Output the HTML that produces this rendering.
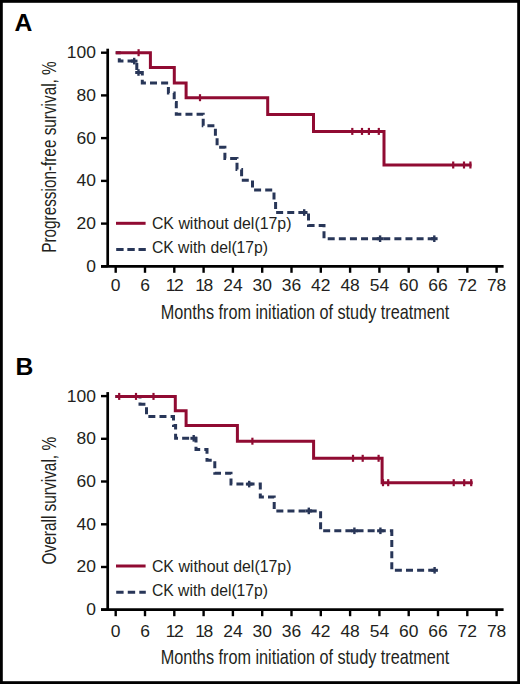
<!DOCTYPE html>
<html><head><meta charset="utf-8"><style>
html,body{margin:0;padding:0;background:#fff;}
svg{display:block;}
text{font-family:"Liberation Sans",sans-serif;fill:#231f20;}
.tk{font-size:15.6px;}
.ttl{font-size:20.2px;}
.lg{font-size:16.2px;}
.pl{font-size:24.7px;font-weight:bold;fill:#000;}
</style></head><body>
<svg width="520" height="684" viewBox="0 0 520 684">
<rect x="0" y="0" width="520" height="684" fill="#fff"/>
<rect x="1.4" y="1.4" width="517.2" height="681.2" fill="none" stroke="#000" stroke-width="2.8"/>
<text x="14.4" y="31.2" class="pl">A</text>
<text x="15.6" y="375" class="pl">B</text>
<line x1="107.7" y1="48.7" x2="107.7" y2="266.3" stroke="#000" stroke-width="2.7"/><line x1="101" y1="266.3" x2="503.6" y2="266.3" stroke="#000" stroke-width="2.7"/><line x1="101" y1="52.7" x2="107.7" y2="52.7" stroke="#000" stroke-width="2.4"/><text transform="translate(95.9 58.1) scale(1.120 1)" text-anchor="end" class="tk">100</text><line x1="101" y1="95.4" x2="107.7" y2="95.4" stroke="#000" stroke-width="2.4"/><text transform="translate(95.9 100.8) scale(1.120 1)" text-anchor="end" class="tk">80</text><line x1="101" y1="138.1" x2="107.7" y2="138.1" stroke="#000" stroke-width="2.4"/><text transform="translate(95.9 143.5) scale(1.120 1)" text-anchor="end" class="tk">60</text><line x1="101" y1="180.9" x2="107.7" y2="180.9" stroke="#000" stroke-width="2.4"/><text transform="translate(95.9 186.3) scale(1.120 1)" text-anchor="end" class="tk">40</text><line x1="101" y1="223.6" x2="107.7" y2="223.6" stroke="#000" stroke-width="2.4"/><text transform="translate(95.9 229.0) scale(1.120 1)" text-anchor="end" class="tk">20</text><line x1="101" y1="266.3" x2="107.7" y2="266.3" stroke="#000" stroke-width="2.4"/><text transform="translate(95.9 271.7) scale(1.120 1)" text-anchor="end" class="tk">0</text><line x1="115.7" y1="266.3" x2="115.7" y2="272.8" stroke="#000" stroke-width="2.4"/><text transform="translate(115.7 291.0) scale(1.120 1)" text-anchor="middle" class="tk">0</text><line x1="145.0" y1="266.3" x2="145.0" y2="272.8" stroke="#000" stroke-width="2.4"/><text transform="translate(145.0 291.0) scale(1.120 1)" text-anchor="middle" class="tk">6</text><line x1="174.3" y1="266.3" x2="174.3" y2="272.8" stroke="#000" stroke-width="2.4"/><text transform="translate(174.1 291.0) scale(1.120 1)" text-anchor="middle" class="tk" letter-spacing="-1.3">12</text><line x1="203.6" y1="266.3" x2="203.6" y2="272.8" stroke="#000" stroke-width="2.4"/><text transform="translate(203.4 291.0) scale(1.120 1)" text-anchor="middle" class="tk" letter-spacing="-1.3">18</text><line x1="232.9" y1="266.3" x2="232.9" y2="272.8" stroke="#000" stroke-width="2.4"/><text transform="translate(232.9 291.0) scale(1.120 1)" text-anchor="middle" class="tk">24</text><line x1="262.2" y1="266.3" x2="262.2" y2="272.8" stroke="#000" stroke-width="2.4"/><text transform="translate(262.2 291.0) scale(1.120 1)" text-anchor="middle" class="tk">30</text><line x1="291.5" y1="266.3" x2="291.5" y2="272.8" stroke="#000" stroke-width="2.4"/><text transform="translate(291.5 291.0) scale(1.120 1)" text-anchor="middle" class="tk">36</text><line x1="320.8" y1="266.3" x2="320.8" y2="272.8" stroke="#000" stroke-width="2.4"/><text transform="translate(320.8 291.0) scale(1.120 1)" text-anchor="middle" class="tk">42</text><line x1="350.1" y1="266.3" x2="350.1" y2="272.8" stroke="#000" stroke-width="2.4"/><text transform="translate(350.1 291.0) scale(1.120 1)" text-anchor="middle" class="tk">48</text><line x1="379.4" y1="266.3" x2="379.4" y2="272.8" stroke="#000" stroke-width="2.4"/><text transform="translate(379.4 291.0) scale(1.120 1)" text-anchor="middle" class="tk">54</text><line x1="408.7" y1="266.3" x2="408.7" y2="272.8" stroke="#000" stroke-width="2.4"/><text transform="translate(408.7 291.0) scale(1.120 1)" text-anchor="middle" class="tk">60</text><line x1="438.0" y1="266.3" x2="438.0" y2="272.8" stroke="#000" stroke-width="2.4"/><text transform="translate(438.0 291.0) scale(1.120 1)" text-anchor="middle" class="tk">66</text><line x1="467.3" y1="266.3" x2="467.3" y2="272.8" stroke="#000" stroke-width="2.4"/><text transform="translate(467.3 291.0) scale(1.120 1)" text-anchor="middle" class="tk">72</text><line x1="496.6" y1="266.3" x2="496.6" y2="272.8" stroke="#000" stroke-width="2.4"/><text transform="translate(496.6 291.0) scale(1.120 1)" text-anchor="middle" class="tk">78</text><text x="160.8" y="319.0" class="ttl" textLength="288.5" lengthAdjust="spacingAndGlyphs">Months from initiation of study treatment</text><text transform="translate(55.8 252.8) rotate(-90)" class="ttl" textLength="191.5" lengthAdjust="spacingAndGlyphs">Progression-free survival, %</text><line x1="116" y1="223.3" x2="145.6" y2="223.3" stroke="#900b32" stroke-width="3.0"/><line x1="116.2" y1="249.5" x2="145.8" y2="249.5" stroke="#283658" stroke-width="3.0" stroke-dasharray="7.4 3.75"/><text x="151.9" y="229.0" class="lg" textLength="139.6" lengthAdjust="spacingAndGlyphs">CK without del(17p)</text><text x="151.9" y="253.3" class="lg" textLength="116.2" lengthAdjust="spacingAndGlyphs">CK with del(17p)</text>
<line x1="107.7" y1="392.1" x2="107.7" y2="609.7" stroke="#000" stroke-width="2.7"/><line x1="101" y1="609.7" x2="503.6" y2="609.7" stroke="#000" stroke-width="2.7"/><line x1="101" y1="396.1" x2="107.7" y2="396.1" stroke="#000" stroke-width="2.4"/><text transform="translate(95.9 401.5) scale(1.120 1)" text-anchor="end" class="tk">100</text><line x1="101" y1="438.8" x2="107.7" y2="438.8" stroke="#000" stroke-width="2.4"/><text transform="translate(95.9 444.2) scale(1.120 1)" text-anchor="end" class="tk">80</text><line x1="101" y1="481.5" x2="107.7" y2="481.5" stroke="#000" stroke-width="2.4"/><text transform="translate(95.9 486.9) scale(1.120 1)" text-anchor="end" class="tk">60</text><line x1="101" y1="524.3" x2="107.7" y2="524.3" stroke="#000" stroke-width="2.4"/><text transform="translate(95.9 529.7) scale(1.120 1)" text-anchor="end" class="tk">40</text><line x1="101" y1="567.0" x2="107.7" y2="567.0" stroke="#000" stroke-width="2.4"/><text transform="translate(95.9 572.4) scale(1.120 1)" text-anchor="end" class="tk">20</text><line x1="101" y1="609.7" x2="107.7" y2="609.7" stroke="#000" stroke-width="2.4"/><text transform="translate(95.9 615.1) scale(1.120 1)" text-anchor="end" class="tk">0</text><line x1="115.7" y1="609.7" x2="115.7" y2="616.2" stroke="#000" stroke-width="2.4"/><text transform="translate(115.7 636.8) scale(1.120 1)" text-anchor="middle" class="tk">0</text><line x1="145.0" y1="609.7" x2="145.0" y2="616.2" stroke="#000" stroke-width="2.4"/><text transform="translate(145.0 636.8) scale(1.120 1)" text-anchor="middle" class="tk">6</text><line x1="174.3" y1="609.7" x2="174.3" y2="616.2" stroke="#000" stroke-width="2.4"/><text transform="translate(174.1 636.8) scale(1.120 1)" text-anchor="middle" class="tk" letter-spacing="-1.3">12</text><line x1="203.6" y1="609.7" x2="203.6" y2="616.2" stroke="#000" stroke-width="2.4"/><text transform="translate(203.4 636.8) scale(1.120 1)" text-anchor="middle" class="tk" letter-spacing="-1.3">18</text><line x1="232.9" y1="609.7" x2="232.9" y2="616.2" stroke="#000" stroke-width="2.4"/><text transform="translate(232.9 636.8) scale(1.120 1)" text-anchor="middle" class="tk">24</text><line x1="262.2" y1="609.7" x2="262.2" y2="616.2" stroke="#000" stroke-width="2.4"/><text transform="translate(262.2 636.8) scale(1.120 1)" text-anchor="middle" class="tk">30</text><line x1="291.5" y1="609.7" x2="291.5" y2="616.2" stroke="#000" stroke-width="2.4"/><text transform="translate(291.5 636.8) scale(1.120 1)" text-anchor="middle" class="tk">36</text><line x1="320.8" y1="609.7" x2="320.8" y2="616.2" stroke="#000" stroke-width="2.4"/><text transform="translate(320.8 636.8) scale(1.120 1)" text-anchor="middle" class="tk">42</text><line x1="350.1" y1="609.7" x2="350.1" y2="616.2" stroke="#000" stroke-width="2.4"/><text transform="translate(350.1 636.8) scale(1.120 1)" text-anchor="middle" class="tk">48</text><line x1="379.4" y1="609.7" x2="379.4" y2="616.2" stroke="#000" stroke-width="2.4"/><text transform="translate(379.4 636.8) scale(1.120 1)" text-anchor="middle" class="tk">54</text><line x1="408.7" y1="609.7" x2="408.7" y2="616.2" stroke="#000" stroke-width="2.4"/><text transform="translate(408.7 636.8) scale(1.120 1)" text-anchor="middle" class="tk">60</text><line x1="438.0" y1="609.7" x2="438.0" y2="616.2" stroke="#000" stroke-width="2.4"/><text transform="translate(438.0 636.8) scale(1.120 1)" text-anchor="middle" class="tk">66</text><line x1="467.3" y1="609.7" x2="467.3" y2="616.2" stroke="#000" stroke-width="2.4"/><text transform="translate(467.3 636.8) scale(1.120 1)" text-anchor="middle" class="tk">72</text><line x1="496.6" y1="609.7" x2="496.6" y2="616.2" stroke="#000" stroke-width="2.4"/><text transform="translate(496.6 636.8) scale(1.120 1)" text-anchor="middle" class="tk">78</text><text x="160.8" y="664.0" class="ttl" textLength="288.5" lengthAdjust="spacingAndGlyphs">Months from initiation of study treatment</text><text transform="translate(55.8 564.5) rotate(-90)" class="ttl" textLength="127.6" lengthAdjust="spacingAndGlyphs">Overall survival, %</text><line x1="116" y1="566.0" x2="145.6" y2="566.0" stroke="#900b32" stroke-width="3.0"/><line x1="116.2" y1="592.2" x2="145.8" y2="592.2" stroke="#283658" stroke-width="3.0" stroke-dasharray="7.4 4.15"/><text x="151.9" y="572.0" class="lg" textLength="139.6" lengthAdjust="spacingAndGlyphs">CK without del(17p)</text><text x="151.9" y="596.3" class="lg" textLength="116.2" lengthAdjust="spacingAndGlyphs">CK with del(17p)</text>
<path d="M115.7 52.7 L119.3 52.7 L119.3 61.1 L136.8 61.1 L136.8 72.5 L142.3 72.5 L142.3 83.1 L168.4 83.1 L168.4 93.0 L174.2 93.0 L174.2 102.5 L176.3 102.5 L176.3 114.3 L203.2 114.3 L203.2 125.7 L215.4 125.7 L215.4 137.0 L217.1 137.0 L217.1 147.3 L224.9 147.3 L224.9 158.5 L237.0 158.5 L237.0 169.5 L241.6 169.5 L241.6 180.2 L252.5 180.2 L252.5 190.1 L274.0 190.1 L274.0 200.0 L275.6 200.0 L275.6 212.5 L308.5 212.5 L308.5 225.5 L324.0 225.5 L324.0 238.7 L437.3 238.7" fill="none" stroke="#283658" stroke-width="3.0" stroke-linejoin="miter" stroke-dasharray="7 4.11" stroke-dashoffset="1.95"/>
<path d="M115.7 52.7 L150.4 52.7 L150.4 67.6 L174.3 67.6 L174.3 83.1 L186.1 83.1 L186.1 97.7 L267.7 97.7 L267.7 114.4 L313.5 114.4 L313.5 131.4 L384.0 131.4 L384.0 165.0 L471.5 165.0" fill="none" stroke="#900b32" stroke-width="3.0" stroke-linejoin="miter" />
<path d="M115.4 396.4 L140.0 396.4 L140.0 404.2 L146.5 404.2 L146.5 416.5 L173.5 416.5 L173.5 425.6 L175.6 425.6 L175.6 438.3 L196.0 438.3 L196.0 449.5 L207.0 449.5 L207.0 460.2 L214.8 460.2 L214.8 473.2 L231.0 473.2 L231.0 484.1 L260.3 484.1 L260.3 497.0 L274.2 497.0 L274.2 510.9 L320.6 510.9 L320.6 530.8 L391.8 530.8 L391.8 570.3 L437.5 570.3" fill="none" stroke="#283658" stroke-width="3.0" stroke-linejoin="miter" stroke-dasharray="7 4.12" stroke-dashoffset="2.55"/>
<path d="M115.4 396.4 L175.3 396.4 L175.3 410.7 L186.1 410.7 L186.1 425.5 L237.4 425.5 L237.4 441.2 L313.6 441.2 L313.6 458.3 L382.1 458.3 L382.1 482.7 L472.7 482.7" fill="none" stroke="#900b32" stroke-width="3.0" stroke-linejoin="miter" />
<line x1="138.6" y1="49.2" x2="138.6" y2="56.2" stroke="#900b32" stroke-width="2.2"/><line x1="200.0" y1="94.2" x2="200.0" y2="101.2" stroke="#900b32" stroke-width="2.2"/><line x1="352.3" y1="127.9" x2="352.3" y2="134.9" stroke="#900b32" stroke-width="2.2"/><line x1="362.0" y1="127.9" x2="362.0" y2="134.9" stroke="#900b32" stroke-width="2.2"/><line x1="368.9" y1="127.9" x2="368.9" y2="134.9" stroke="#900b32" stroke-width="2.2"/><line x1="378.8" y1="127.9" x2="378.8" y2="134.9" stroke="#900b32" stroke-width="2.2"/><line x1="453.2" y1="161.5" x2="453.2" y2="168.5" stroke="#900b32" stroke-width="2.2"/><line x1="464.0" y1="161.5" x2="464.0" y2="168.5" stroke="#900b32" stroke-width="2.2"/><line x1="470.4" y1="161.5" x2="470.4" y2="168.5" stroke="#900b32" stroke-width="2.2"/>
<line x1="119.2" y1="392.9" x2="119.2" y2="399.9" stroke="#900b32" stroke-width="2.2"/><line x1="136.0" y1="392.9" x2="136.0" y2="399.9" stroke="#900b32" stroke-width="2.2"/><line x1="153.5" y1="392.9" x2="153.5" y2="399.9" stroke="#900b32" stroke-width="2.2"/><line x1="252.4" y1="437.7" x2="252.4" y2="444.7" stroke="#900b32" stroke-width="2.2"/><line x1="353.0" y1="454.8" x2="353.0" y2="461.8" stroke="#900b32" stroke-width="2.2"/><line x1="362.7" y1="454.8" x2="362.7" y2="461.8" stroke="#900b32" stroke-width="2.2"/><line x1="378.6" y1="454.8" x2="378.6" y2="461.8" stroke="#900b32" stroke-width="2.2"/><line x1="383.0" y1="479.2" x2="383.0" y2="486.2" stroke="#900b32" stroke-width="2.2"/><line x1="388.2" y1="479.2" x2="388.2" y2="486.2" stroke="#900b32" stroke-width="2.2"/><line x1="453.7" y1="479.2" x2="453.7" y2="486.2" stroke="#900b32" stroke-width="2.2"/><line x1="464.2" y1="479.2" x2="464.2" y2="486.2" stroke="#900b32" stroke-width="2.2"/><line x1="471.2" y1="479.2" x2="471.2" y2="486.2" stroke="#900b32" stroke-width="2.2"/>
<line x1="134.2" y1="57.8" x2="134.2" y2="64.4" stroke="#283658" stroke-width="2.4"/><line x1="138.5" y1="69.2" x2="138.5" y2="75.8" stroke="#283658" stroke-width="2.4"/><line x1="304.2" y1="209.2" x2="304.2" y2="215.8" stroke="#283658" stroke-width="2.4"/><line x1="380.1" y1="235.4" x2="380.1" y2="242.0" stroke="#283658" stroke-width="2.4"/><line x1="434.3" y1="235.4" x2="434.3" y2="242.0" stroke="#283658" stroke-width="2.4"/>
<line x1="193.7" y1="435.0" x2="193.7" y2="441.6" stroke="#283658" stroke-width="2.4"/><line x1="249.2" y1="480.8" x2="249.2" y2="487.4" stroke="#283658" stroke-width="2.4"/><line x1="308.8" y1="507.6" x2="308.8" y2="514.2" stroke="#283658" stroke-width="2.4"/><line x1="354.4" y1="527.5" x2="354.4" y2="534.1" stroke="#283658" stroke-width="2.4"/><line x1="380.4" y1="527.5" x2="380.4" y2="534.1" stroke="#283658" stroke-width="2.4"/><line x1="434.6" y1="567.0" x2="434.6" y2="573.6" stroke="#283658" stroke-width="2.4"/>
<line x1="130.9" y1="61.1" x2="137.5" y2="61.1" stroke="#283658" stroke-width="3.0"/><line x1="135.2" y1="72.5" x2="141.8" y2="72.5" stroke="#283658" stroke-width="3.0"/><line x1="300.9" y1="212.5" x2="307.5" y2="212.5" stroke="#283658" stroke-width="3.0"/><line x1="376.8" y1="238.7" x2="383.4" y2="238.7" stroke="#283658" stroke-width="3.0"/><line x1="431.0" y1="238.7" x2="437.6" y2="238.7" stroke="#283658" stroke-width="3.0"/>
<line x1="190.4" y1="438.3" x2="197.0" y2="438.3" stroke="#283658" stroke-width="3.0"/><line x1="245.9" y1="484.1" x2="252.5" y2="484.1" stroke="#283658" stroke-width="3.0"/><line x1="305.5" y1="510.9" x2="312.1" y2="510.9" stroke="#283658" stroke-width="3.0"/><line x1="351.1" y1="530.8" x2="357.7" y2="530.8" stroke="#283658" stroke-width="3.0"/><line x1="377.1" y1="530.8" x2="383.7" y2="530.8" stroke="#283658" stroke-width="3.0"/><line x1="431.3" y1="570.3" x2="437.9" y2="570.3" stroke="#283658" stroke-width="3.0"/>
</svg>
</body></html>
